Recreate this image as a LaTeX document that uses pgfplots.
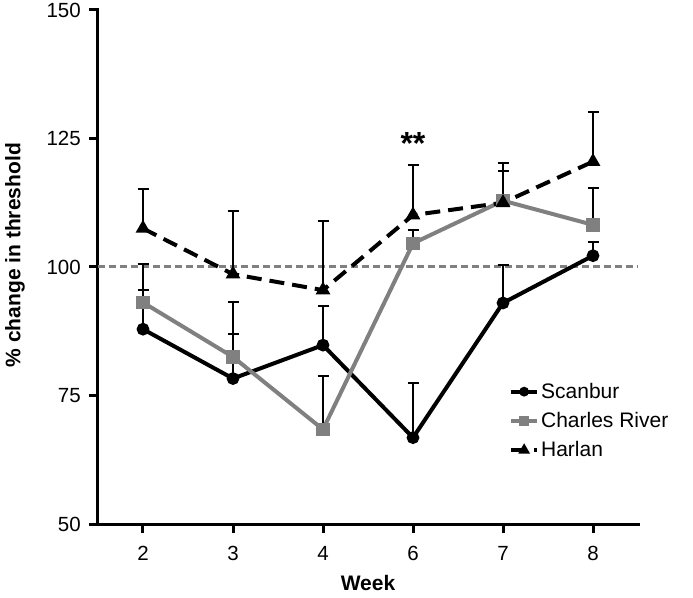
\documentclass[border=0pt]{standalone}
\usepackage{pgfplots}
\pgfplotsset{compat=1.18}
\usepackage{pgfplotstable}
\usepackage{fontspec}
\setmainfont{Liberation Sans}
\definecolor{cgray}{RGB}{128,128,128}
\newcommand{\tkf}{\fontsize{20.5}{23}\selectfont}

\pgfplotstableread{
x y e
0 87.9 7.6
1 78.3 8.6
2 84.8 7.6
3 66.8 10.6
4 93.0 7.3
5 102.2 2.7
}\scanbur
\pgfplotstableread{
x y e
0 93.1 7.5
1 82.5 10.7
2 68.4 10.4
3 104.6 2.6
4 112.9 5.7
5 108.2 7.2
}\charles
\pgfplotstableread{
x y e
0 107.5 7.6
1 98.6 12.2
2 95.5 13.5
3 110.1 9.8
4 112.5 7.7
5 120.5 9.6
}\harlan

\begin{document}
\begin{tikzpicture}
\begin{axis}[
  at={(0,0)}, anchor=south west,
  scale only axis, width=540pt, height=514pt,
  xmin=-0.5, xmax=5.5, ymin=50, ymax=150,
  axis x line*=bottom, axis y line*=left,
  axis line style={line width=3pt, line cap=rect, black},
  xtick={0,1,2,3,4,5}, xticklabels={2,3,4,6,7,8},
  ytick={50,75,100,125,150},
  tick style={line width=3pt, black},
  major tick length=9pt,
  tick align=outside,
  tick label style={font=\tkf},
  xticklabel style={inner sep=0pt, yshift=-13pt},
  yticklabel style={inner sep=0pt, xshift=-8pt},
  /pgf/number format/assume math mode=true,
  xlabel={Week}, ylabel={\% change in threshold},
  label style={font=\bfseries\fontsize{21}{24}\selectfont},
  xlabel style={at={(rel axis cs:0.5,0)}, anchor=center, yshift=-59pt},
  ylabel style={at={(rel axis cs:0,0.523)}, anchor=center, yshift=83pt},
  legend style={at={(rel axis cs:0.761,0.278)}, anchor=north west, draw=none, fill=none,
    inner sep=0pt, row sep=8.5pt, font=\fontsize{21}{24}\selectfont, nodes={inner sep=2pt},
    /tikz/every even column/.append style={column sep=3pt}},
  legend cell align=left,
  legend image code/.code={\draw[mark repeat=2,mark phase=2,#1,mark size=2.8pt] plot coordinates {(0pt,0pt) (13pt,0pt) (26pt,0pt)};},
  clip=false,
]
\addplot[cgray, line width=3pt, dash pattern=on 7pt off 4pt, forget plot] coordinates {(-0.5,100) (5.5,100)};

\addplot[black, line width=4pt, mark=*, mark size=4.3pt, mark options={solid},
  error bars/.cd, y dir=plus, y explicit,
  error bar style={line width=2pt, black, solid},
  error mark options={rotate=90, mark size=5.5pt, line width=2pt, black, solid}]
  table[x=x, y=y, y error=e] {\scanbur};
\addlegendentry{Scanbur}

\addplot[cgray, line width=4pt, mark=square*, mark size=4.8pt, mark options={solid},
  error bars/.cd, y dir=plus, y explicit,
  error bar style={line width=2pt, black, solid},
  error mark options={rotate=90, mark size=5.5pt, line width=2pt, black, solid}]
  table[x=x, y=y, y error=e] {\charles};
\addlegendentry{Charles River}

\addplot[black, line width=4pt, dash pattern=on 15pt off 8pt, mark=triangle*, mark size=4.6pt, mark options={solid},
  error bars/.cd, y dir=plus, y explicit,
  error bar style={line width=2pt, black, solid},
  error mark options={rotate=90, mark size=5.5pt, line width=2pt, black, solid}]
  table[x=x, y=y, y error=e] {\harlan};
\addlegendentry{Harlan}

\node[font=\bfseries\fontsize{32}{32}\selectfont] at (axis cs:3,124.0) {**};
\end{axis}
\pgfresetboundingbox
\path (-98pt,-73pt) rectangle (595pt,524pt);
\end{tikzpicture}
\end{document}
